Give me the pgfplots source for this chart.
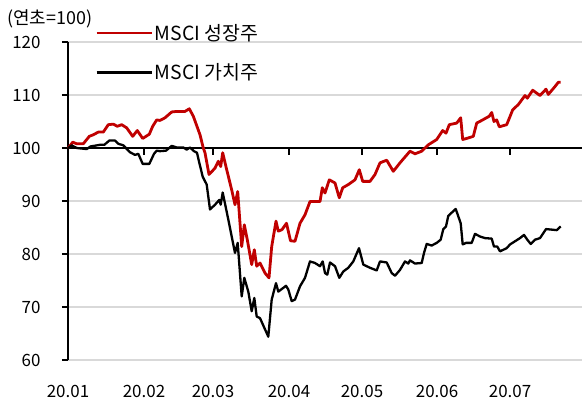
\documentclass[border=0pt]{standalone}
\usepackage{pgfplots}
\pgfplotsset{compat=1.18}
\usepackage{fontspec}
\setmainfont{Noto Sans CJK KR}
\definecolor{grw}{HTML}{C00000}
\definecolor{gridc}{HTML}{D9D9D9}
\begin{document}
\begin{tikzpicture}
\begin{axis}[
  scale only axis,
  width=514bp, height=318bp,
  xmin=68, xmax=582, ymin=60, ymax=120,
  axis x line*=bottom, axis y line*=left,
  x axis line style={draw=none},
  y axis line style={line width=1.3bp},
  xtick={68,144,213,289,362,437,510},
  xticklabels={20.01,20.02,20.03,20.04,20.05,20.06,20.07},
  xtick style={draw=none},
  ytick={60,70,80,90,100,110,120},
  ytick style={line width=1.3bp, black},
  major tick length=6bp,
  tick align=outside,
  ymajorgrids,
  grid style={gridc, line width=1.3bp},
  /pgf/number format/assume math mode=true,
  ticklabel style={font=\fontsize{17}{20}\selectfont},
  yticklabel style={xshift=-18bp},
  xticklabel style={yshift=-16bp},
  legend cell align=left,
  legend style={draw=none, fill=none, at={(axis description cs:0,1)}, anchor=north west,
    xshift=27bp, yshift=20bp, font=\fontsize{19.5}{22}\selectfont, row sep=18bp,
    inner sep=0pt},
  legend image code/.code={\draw[#1] (0bp,0bp) -- (55bp,0bp);},
  clip=false,
]
\coordinate (sw) at (rel axis cs:0,0);
\coordinate (ne) at (rel axis cs:1,1);
\addplot[black, line width=1.3bp, forget plot] coordinates {(68,100) (582,100)};
\addplot[black, only marks, mark=|, mark size=3.6bp, mark options={line width=1.5bp, black}, forget plot]
  coordinates {(144,99.33) (213,99.33) (289,99.33) (362,99.33) (437,99.33) (510,99.33)};
\addplot[grw, line width=2.8bp, line join=round] coordinates {
(68.3,100) (72.7,101.1) (76.7,100.8) (83.3,100.8) (89.3,102.2) (93.3,102.5) (98.3,103.0) (103.3,103.0)
(108.3,104.4) (113.3,104.5) (117.3,104.1) (121.7,104.4) (126.7,103.8) (132.7,102.2) (137.3,103.3)
(142.7,101.8) (149.3,102.6) (152.7,104.1) (156.7,105.3) (160,105.2) (165,105.7) (171.7,106.8)
(176.7,106.9) (185,106.9) (189.3,107.4) (193.3,106.0) (200,102.5) (203.3,100.0) (205,99.1) (209,95.0)
(215,96.2) (218.3,97.5) (220.7,96.5) (222.7,99.1) (226.7,95.9) (231.7,92.1) (235,89.3) (237.7,91.8)
(241.7,81.4) (244.3,85.5) (247.3,82.7) (251.7,78.0) (254.3,80.8) (256.7,77.7) (260,78.3) (265,76.4)
(269,75.5) (271.7,81.4) (276,86.2) (278.3,84.3) (282,84.6) (286.5,85.8) (290.5,82.5) (295,82.4)
(300,85.8) (305,87.4) (310,89.9) (320,89.9) (322.3,92.5) (325,91.5) (329.3,94.0) (335,93.4)
(339.3,90.6) (342.7,92.5) (348.3,93.1) (355,94.0) (359.3,95.9) (362.7,93.7) (370,93.7) (375,95.0)
(380,97.2) (386.7,97.7) (393.3,95.6) (400,97.2) (405,98.3) (410,99.4) (415,98.9) (421.7,99.4)
(428.3,100.6) (436.7,101.6) (442.7,103.3) (446,102.8) (449.3,104.4) (456.7,104.7) (460.7,105.7)
(462.7,101.6) (468.3,101.9) (473.3,102.2) (476.7,104.7) (481.7,105.2) (489.3,106.0) (491.7,106.7)
(494,105.0) (496.7,105.3) (499.3,104.0) (506.7,104.4) (512.7,107.2) (518.3,108.2) (525,109.9)
(527.3,109.4) (532.7,110.9) (540,109.9) (546,111.1) (548.3,110.1) (555,111.6) (558.3,112.4) (560.7,112.4)
};
\addlegendentry{MSCI 성장주}
\addplot[black, line width=2.3bp, line join=round] coordinates {
(68.3,100) (71.7,100.5) (76.7,100.0) (86.7,99.8) (90.7,100.3) (100,100.6) (104.3,100.6) (109.3,101.4)
(115,101.4) (118.3,100.8) (123.3,100.5) (130,99.2) (135,98.7) (138.3,98.9) (142.7,97.0) (149.3,97.0)
(154,98.9) (156.7,99.5) (160,99.4) (166,99.5) (171.7,100.4) (176.7,100.1) (183.3,100.1) (186.7,99.7)
(190,100.1) (194,99.4) (197,99.1) (199.3,97.2) (202.7,94.6) (206.7,93.1) (210,88.4) (215,89.3)
(219.3,90.2) (220.7,89.3) (222.7,91.6) (228.3,86.5) (235,80.2) (237.7,82.1) (241.7,72.0) (244.3,75.5)
(248.3,72.9) (251.7,69.2) (254.3,71.7) (256.7,68.2) (260,67.9) (268.3,64.4) (271.7,71.4) (276,74.5)
(278.3,72.9) (286,74.0) (288.3,73.3) (291.7,71.1) (295,71.4) (300,73.9) (305,75.5) (310,78.6)
(315,78.3) (320,77.7) (322.7,78.6) (325,76.4) (327.3,76.1) (330,78.4) (335,77.7) (339.3,75.5)
(343.3,76.7) (348.3,77.4) (353.3,78.6) (359,81.1) (363.3,78.0) (370,77.4) (376.7,76.9) (380,78.6)
(386.7,78.4) (391.7,76.4) (395,75.9) (400,77.0) (405,78.6) (408.3,78.2) (410,78.8) (415,78.2)
(421.7,78.3) (424,80.2) (426.7,81.9) (431.7,81.6) (436.7,82.1) (440.7,82.7) (443.3,84.7) (446,85.2)
(448.3,87.2) (451.7,87.8) (455.7,88.5) (458.3,87.1) (460.7,85.8) (462.7,81.8) (466,82.1) (471.7,82.1)
(475,83.8) (480,83.3) (485,83.0) (491.7,82.9) (494,81.4) (497.3,81.4) (500,80.5) (506.7,81.1)
(510,81.8) (515,82.4) (520,83.0) (524,83.6) (527.3,82.7) (530.7,81.9) (535,82.7) (540,83.0)
(546,84.7) (551.7,84.6) (556.7,84.5) (560.7,85.2)
};
\addlegendentry{MSCI 가치주}
\node[anchor=west, font=\fontsize{18}{21}\selectfont, inner sep=0pt] at ([shift={(-61bp,23bp)}]rel axis cs:0,1) {(연초=100)};
\end{axis}
\pgfresetboundingbox
\path ([shift={(-68bp,-41bp)}]sw) rectangle ([shift={(1bp,42bp)}]ne);
\end{tikzpicture}
\end{document}
